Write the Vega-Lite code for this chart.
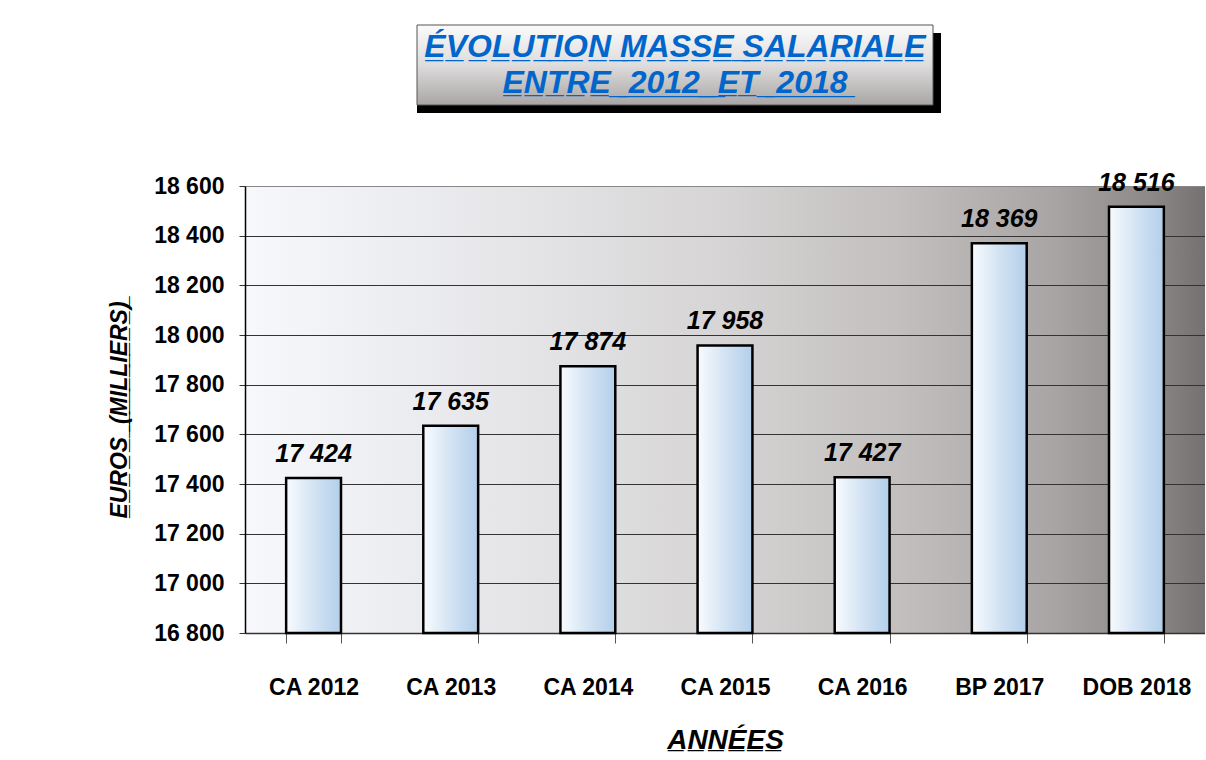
{
  "$schema": "https://vega.github.io/schema/vega-lite/v6.json",
  "padding": {"left": 108, "top": 24, "right": 0, "bottom": 0},
  "background": "white",
  "spacing": 57,
  "config": {
    "font": "Liberation Sans",
    "view": {"stroke": null},
    "locale": {"number": {"decimal": ",", "thousands": " ", "grouping": [3], "currency": ["", " €"]}}
  },
  "vconcat": [
    {
      "spacing": 0,
      "hconcat": [
        {
          "width": 170,
          "height": 80,
          "view": {"stroke": "transparent"},
          "data": {"values": [{}]},
          "mark": {"type": "text", "text": ""},
          "encoding": {}
        },
        {
          "width": 516,
          "height": 80,
          "layer": [
            {
              "data": {"values": [{}]},
              "mark": {"type": "rect", "fill": "black", "xOffset": 8, "yOffset": 8, "y2Offset": 8},
              "encoding": {"y2": {"value": "height"}}
            },
            {
              "data": {"values": [{}]},
              "mark": {
                "type": "rect",
                "fill": {"gradient": "linear", "x1": 0, "y1": 0, "x2": 0, "y2": 1, "stops": [{"offset": 0, "color": "#fbfbfb"}, {"offset": 0.5, "color": "#dedcdc"}, {"offset": 1, "color": "#a9a5a5"}]},
                "stroke": "#555555",
                "strokeWidth": 1
              },
              "encoding": {}
            },
            {
              "data": {"values": [
                {"line": 1, "label": "É\u0332V\u0332O\u0332L\u0332U\u0332T\u0332I\u0332O\u0332N\u0332 \u0332M\u0332A\u0332S\u0332S\u0332E\u0332 \u0332S\u0332A\u0332L\u0332A\u0332R\u0332I\u0332A\u0332L\u0332E\u0332"},
                {"line": 2, "label": "E\u0332N\u0332T\u0332R\u0332E\u0332 \u0332 \u03322\u03320\u03321\u03322\u0332 \u0332 \u0332E\u0332T\u0332 \u0332 \u03322\u03320\u03321\u03328\u0332"}
              ]},
              "mark": {"type": "text", "fontSize": 32, "fontWeight": "bold", "fontStyle": "italic", "color": "#0066CC", "baseline": "middle"},
              "encoding": {
                "y": {"field": "line", "type": "ordinal", "axis": null, "scale": {"padding": 0.64}},
                "text": {"field": "label"}
              }
            }
          ]
        }
      ]
    },
    {
      "width": 960,
      "height": 447,
      "view": {
        "stroke": null,
        "fill": {"gradient": "linear", "x1": 0, "y1": 0, "x2": 1, "y2": 0, "stops": [
          {"offset": 0, "color": "#f6f8fc"},
          {"offset": 0.27, "color": "#e6e6e9"},
          {"offset": 0.5, "color": "#d6d4d4"},
          {"offset": 0.68, "color": "#c2bfbe"},
          {"offset": 0.84, "color": "#a9a5a4"},
          {"offset": 0.945, "color": "#8c8887"},
          {"offset": 1, "color": "#757170"}
        ]}
      },
      "data": {"values": [
        {"cat": "CA 2012", "value": 17424},
        {"cat": "CA 2013", "value": 17635},
        {"cat": "CA 2014", "value": 17874},
        {"cat": "CA 2015", "value": 17958},
        {"cat": "CA 2016", "value": 17427},
        {"cat": "BP 2017", "value": 18369},
        {"cat": "DOB 2018", "value": 18516}
      ]},
      "encoding": {
        "x": {
          "field": "cat",
          "type": "nominal",
          "sort": null,
          "scale": {"paddingInner": 0.6, "paddingOuter": 0.3},
          "axis": {
            "title": "A\u0332N\u0332N\u0332É\u0332E\u0332S\u0332",
            "titleFontSize": 28,
            "titleFontWeight": "bold",
            "titleFontStyle": "italic",
            "titleColor": "black",
            "titlePadding": 27,
            "labelFontSize": 23,
            "labelFontWeight": "bold",
            "labelColor": "black",
            "labelAngle": 0,
            "labelPadding": 33,
            "tickSize": 10,
            "tickBand": "extent",
            "tickColor": "#555555",
            "domainColor": "#333333",
            "domainWidth": 1.5,
            "grid": false
          }
        },
        "y": {
          "field": "value",
          "type": "quantitative",
          "scale": {"domain": [16800, 18600], "zero": false, "nice": false},
          "axis": {
            "title": "E\u0332U\u0332R\u0332O\u0332S\u0332 \u0332 \u0332(\u0332M\u0332I\u0332L\u0332L\u0332I\u0332E\u0332R\u0332S\u0332)\u0332",
            "titleFontSize": 23,
            "titleFontWeight": "bold",
            "titleFontStyle": "italic",
            "titleColor": "black",
            "titlePadding": 22,
            "values": [16800, 17000, 17200, 17400, 17600, 17800, 18000, 18200, 18400, 18600],
            "format": ",d",
            "labelFontSize": 23,
            "labelFontWeight": "bold",
            "labelColor": "black",
            "labelPadding": 15,
            "tickSize": 6,
            "tickColor": "#333333",
            "domainColor": "black",
            "domainWidth": 1.5,
            "grid": true,
            "gridColor": {"condition": {"test": "datum.value == 18600", "value": "#888888"}, "value": "#333333"},
            "gridWidth": 1
          }
        }
      },
      "layer": [
        {
          "mark": {
            "type": "bar",
            "fill": {"gradient": "linear", "x1": 0, "y1": 0, "x2": 1, "y2": 0, "stops": [{"offset": 0, "color": "#f8fbfe"}, {"offset": 0.5, "color": "#d3e3f3"}, {"offset": 1, "color": "#b3cfea"}]},
            "stroke": "black",
            "strokeWidth": 2.5
          },
          "encoding": {"y2": {"datum": 16800}}
        },
        {
          "mark": {"type": "text", "dy": -16, "baseline": "alphabetic", "fontSize": 25, "fontWeight": "bold", "fontStyle": "italic", "color": "black"},
          "encoding": {"text": {"field": "value", "type": "quantitative", "format": ",d"}}
        }
      ]
    }
  ]
}
